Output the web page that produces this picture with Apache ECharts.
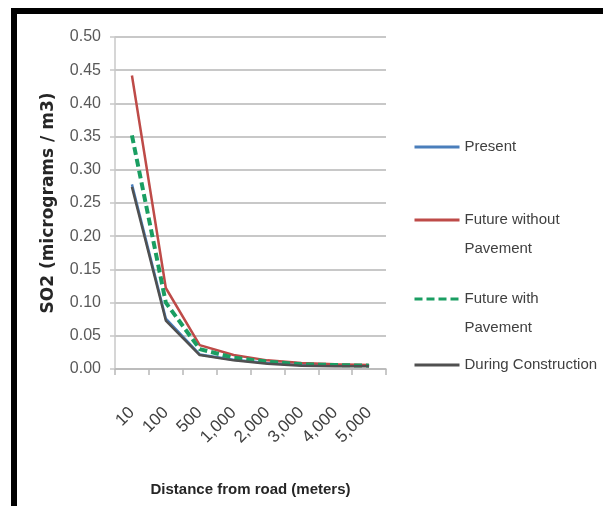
<!DOCTYPE html>
<html>
<head>
<meta charset="utf-8">
<script src="https://cdn.jsdelivr.net/npm/echarts@6/dist/echarts.min.js"></script>
<style>
html,body{margin:0;padding:0;background:#fff;}
#chart{width:603px;height:506px;}
</style>
</head>
<body>
<div id="chart"></div>
<script>
const categories = ['10', '100', '500', '1,000', '2,000', '3,000', '4,000', '5,000'];
const yTicks = [0, 0.05, 0.10, 0.15, 0.20, 0.25, 0.30, 0.35, 0.40, 0.45, 0.50];
const present = [0.278, 0.076, 0.022, 0.014, 0.009, 0.006, 0.005, 0.005];
const futureWithout = [0.442, 0.122, 0.036, 0.021, 0.013, 0.009, 0.007, 0.006];
const futureWith = [0.352, 0.100, 0.030, 0.017, 0.011, 0.007, 0.006, 0.005];
const duringConstruction = [0.274, 0.073, 0.021, 0.013, 0.008, 0.005, 0.004, 0.004];
const seriesNames = ['Present', 'Future without\nPavement', 'Future with\nPavement', 'During Construction'];

const FONT = "'Liberation Sans', Arial, sans-serif";
const chart = echarts.init(document.getElementById('chart'), null, {renderer: 'canvas'});

function legendFor(name, top, twoLine) {
  const l = {
    data: [name],
    left: 413,
    top: top,
    padding: 0,
    itemWidth: 45,
    itemHeight: 14,
    selectedMode: false,
    itemStyle: {opacity: 0},
    lineStyle: {width: 3},
    textStyle: {
      fontFamily: FONT,
      fontSize: 15,
      color: '#404040',
      lineHeight: 29
    }
  };
  if (twoLine) l.formatter = n => ' \n' + n;
  return l;
}

const option = {
  backgroundColor: '#ffffff',
  animation: false,
  grid: {left: 115, right: 217, top: 37, bottom: 137, containLabel: false},
  legend: [
    legendFor(seriesNames[0], 132.5, false),
    legendFor(seriesNames[1], 176.5, true),
    legendFor(seriesNames[2], 255.5, true),
    legendFor(seriesNames[3], 350.5, false)
  ],
  xAxis: {
    type: 'category',
    data: categories,
    boundaryGap: true,
    name: 'Distance from road (meters)',
    nameLocation: 'middle',
    nameGap: 113,
    nameTextStyle: {fontFamily: FONT, fontSize: 15, fontWeight: 'bold', color: '#262626'},
    axisLine: {show: true, lineStyle: {color: '#b8b8b8', width: 1.5}},
    axisTick: {show: true, alignWithLabel: false, length: 6, lineStyle: {color: '#b8b8b8', width: 1.5}},
    axisLabel: {
      rotate: 45, margin: 41, interval: 0,
      fontFamily: FONT, fontSize: 17, color: '#404040'
    },
    splitLine: {show: false}
  },
  yAxis: {
    type: 'value',
    min: yTicks[0],
    max: yTicks[yTicks.length - 1],
    interval: 0.05,
    name: 'SO2 (micrograms / m3)',
    nameLocation: 'middle',
    nameGap: 58,
    nameRotate: 90,
    nameTextStyle: {fontFamily: "'DejaVu Sans', sans-serif", fontSize: 17, fontWeight: 'bold', color: '#262626'},
    axisLine: {show: true, lineStyle: {color: '#c8c8c8', width: 1.5}},
    axisTick: {show: true, length: 5, lineStyle: {color: '#c8c8c8', width: 1.5}},
    axisLabel: {
      margin: 14, fontFamily: FONT, fontSize: 16, color: '#595959',
      formatter: v => v.toFixed(2)
    },
    splitLine: {show: true, lineStyle: {color: '#c8c8c8', width: 1.8}}
  },
  graphic: [
    {type: 'rect', shape: {x: 11, y: 8, width: 592, height: 6}, style: {fill: '#000'}, z: 100},
    {type: 'rect', shape: {x: 11, y: 8, width: 6, height: 498}, style: {fill: '#000'}, z: 100}
  ],
  series: [
    {name: seriesNames[0], type: 'line', data: present, symbol: 'none',
     lineStyle: {color: '#4a7ebb', width: 2.5}, itemStyle: {color: '#4a7ebb'}},
    {name: seriesNames[1], type: 'line', data: futureWithout, symbol: 'none',
     lineStyle: {color: '#be4b48', width: 2.5}, itemStyle: {color: '#be4b48'}},
    {name: seriesNames[2], type: 'line', data: futureWith, symbol: 'none',
     lineStyle: {color: '#1a9e62', width: 4, type: [8, 4]}, itemStyle: {color: '#1a9e62'}},
    {name: seriesNames[3], type: 'line', data: duringConstruction, symbol: 'none',
     lineStyle: {color: '#505050', width: 2.5}, itemStyle: {color: '#505050'}}
  ]
};
chart.setOption(option);
</script>
</body>
</html>
